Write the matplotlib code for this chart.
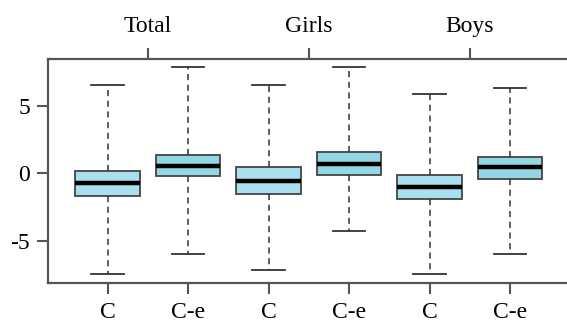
import matplotlib
matplotlib.use("Agg")
import matplotlib.pyplot as plt

labels = ["C", "C-e", "C", "C-e", "C", "C-e"]
groups = ["Total", "Girls", "Boys"]
whislo = [-7.48, -5.95, -7.13, -4.24, -7.48, -5.95]
q1 = [-1.70, -0.24, -1.53, -0.10, -1.90, -0.44]
med = [-0.74, 0.52, -0.61, 0.70, -0.99, 0.44]
q3 = [0.15, 1.36, 0.44, 1.53, -0.10, 1.21]
whishi = [6.50, 7.83, 6.50, 7.83, 5.88, 6.30]
fills = ["#a8e0ee", "#94d7e4", "#a8e0ee", "#94d7e4", "#a8e0ee", "#94d7e4"]

plt.rcParams['font.family'] = ['Liberation Serif', 'DejaVu Serif']

fig = plt.figure(figsize=(5.67, 3.26), dpi=100)
ax = fig.add_axes([48/567, 1-283/326, (569.6-48)/567, (283-59)/326])

stats = []
for i in range(6):
    stats.append(dict(whislo=whislo[i], q1=q1[i], med=med[i], q3=q3[i],
                      whishi=whishi[i], fliers=[]))
edge = "#444444"
bp = ax.bxp(stats, positions=range(1, 7), widths=0.8, patch_artist=True,
            showfliers=False,
            boxprops=dict(edgecolor=edge, linewidth=1.3),
            medianprops=dict(color="black", linewidth=3.2, solid_capstyle="butt"),
            whiskerprops=dict(color="#333333", linewidth=1.1, linestyle=(0, (4, 3))),
            capprops=dict(color="#333333", linewidth=1.3),
            capwidths=0.4)
for p, c in zip(bp['boxes'], fills):
    p.set_facecolor(c)

ax.set_xlim(0.26, 6.74)
ax.set_ylim(-8.12, 8.44)
ax.set_yticks([-5, 0, 5])
ax.set_yticklabels(["-5", "0", "5"])
ax.set_xticks(range(1, 7))
ax.set_xticklabels(labels)

spine_c = "#555555"
for s in ["left", "top", "bottom"]:
    ax.spines[s].set_color(spine_c)
    ax.spines[s].set_linewidth(1.6)
ax.spines["right"].set_visible(False)
ax.tick_params(axis='both', colors=spine_c, labelcolor="black", labelsize=17,
               length=8, width=1.5, direction='out')
ax.tick_params(axis='x', pad=6)
ax.tick_params(axis='y', pad=5)

ax2 = ax.twiny()
ax2.set_xlim(ax.get_xlim())
ax2.set_xticks([1.5, 3.5, 5.5])
ax2.set_xticklabels(groups)
for s in ["left", "right", "bottom", "top"]:
    ax2.spines[s].set_visible(False)
ax2.tick_params(axis='x', colors=spine_c, labelcolor="black", labelsize=17,
                length=8, width=1.5, direction='out', pad=8)

fig.savefig("out.png", dpi=100)
